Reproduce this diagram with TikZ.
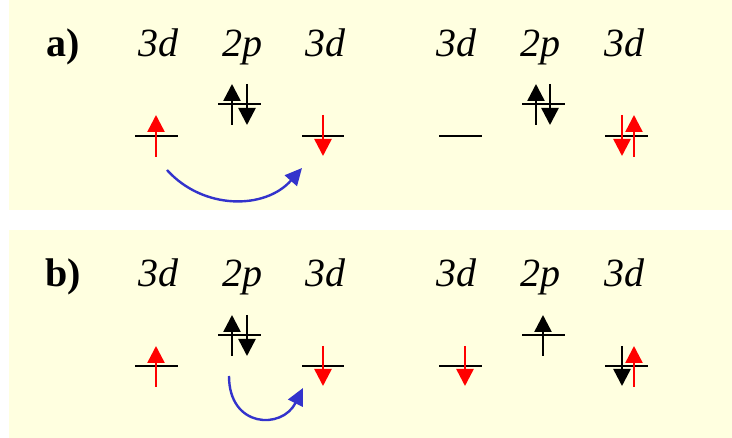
\documentclass[tikz,border=0pt]{standalone}
\usepackage{fontspec}
\setmainfont{Liberation Serif}
\usetikzlibrary{arrows.meta}
\definecolor{panelbg}{HTML}{FFFFE0}
\definecolor{spinred}{HTML}{FF0000}
\definecolor{hopblue}{HTML}{3333CC}
\begin{document}
\begin{tikzpicture}[x=1pt,y=-1pt,
  panel/.style={fill=panelbg,draw=none},
  lbl/.style={anchor=base,inner sep=0pt,font=\fontsize{40}{48}\selectfont\itshape},
  tag/.style={anchor=base,inner sep=0pt,font=\fontsize{40}{48}\selectfont\bfseries},
  orb/.style={line width=2.6pt,black},
  spin/.style={line width=2.5pt,-{Triangle[width=17pt,length=17pt]}},
  hop/.style={line width=2.4pt,hopblue,-{Triangle[width=16pt,length=17pt]}}
]
\fill[white] (0,0) rectangle (732,438);
\useasboundingbox (0,0) rectangle (732,438);
% panels
\fill[panel] (9,0) rectangle (732,210);
\fill[panel] (9,230) rectangle (732,438);

% ---------- panel a ----------
\node[tag] (ta) at (63,57) {a)};
\node[lbl] (a1) at (158,57) {3d};
\node[lbl] (a2) at (242,57) {2p};
\node[lbl] (a3) at (325,57) {3d};
\node[lbl] (a4) at (456,57) {3d};
\node[lbl] (a5) at (540,57) {2p};
\node[lbl] (a6) at (624,57) {3d};
% orbitals
\draw[orb] (135,136) -- (178,136);
\draw[orb] (218,104) -- (261,104);
\draw[orb] (302,136) -- (344,136);
\draw[orb] (439,136) -- (482,136);
\draw[orb] (522,104) -- (565,104);
\draw[orb] (605,136) -- (648,136);
% spins
\draw[spin,spinred] (156,157) -- (156,115);
\draw[spin,black] (232,125) -- (232,84);
\draw[spin,black] (247,84) -- (247,125);
\draw[spin,spinred] (323,115) -- (323,156);
\draw[spin,black] (536,125) -- (536,84);
\draw[spin,black] (550,84) -- (550,125);
\draw[spin,spinred] (622,115) -- (622,156);
\draw[spin,spinred] (634,157) -- (634,115);
% hop
\coordinate (ha1) at (167,170);
\coordinate (ha2) at (302,168);
\draw[hop] (ha1) .. controls (203,210) and (265,210) .. (ha2);

% ---------- panel b ----------
\node[tag] (tb) at (63,287) {b)};
\node[lbl] (b1) at (158,287) {3d};
\node[lbl] (b2) at (242,287) {2p};
\node[lbl] (b3) at (325,287) {3d};
\node[lbl] (b4) at (456,287) {3d};
\node[lbl] (b5) at (540,287) {2p};
\node[lbl] (b6) at (624,287) {3d};
% orbitals
\draw[orb] (135,366) -- (178,366);
\draw[orb] (218,335) -- (261,335);
\draw[orb] (302,366) -- (344,366);
\draw[orb] (439,366) -- (482,366);
\draw[orb] (522,335) -- (565,335);
\draw[orb] (605,366) -- (648,366);
% spins
\draw[spin,spinred] (156,387) -- (156,346);
\draw[spin,black] (232,356) -- (232,315);
\draw[spin,black] (247,315) -- (247,356);
\draw[spin,spinred] (323,346) -- (323,386);
\draw[spin,spinred] (465,346) -- (465,386);
\draw[spin,black] (543,356) -- (543,315);
\draw[spin,black] (622,346) -- (622,386);
\draw[spin,spinred] (634,387) -- (634,346);
% hop
\coordinate (hb1) at (229,376);
\coordinate (hb2) at (303,388);
\draw[hop] (hb1) .. controls (229,428) and (282,430) .. (hb2);
\end{tikzpicture}
\end{document}
